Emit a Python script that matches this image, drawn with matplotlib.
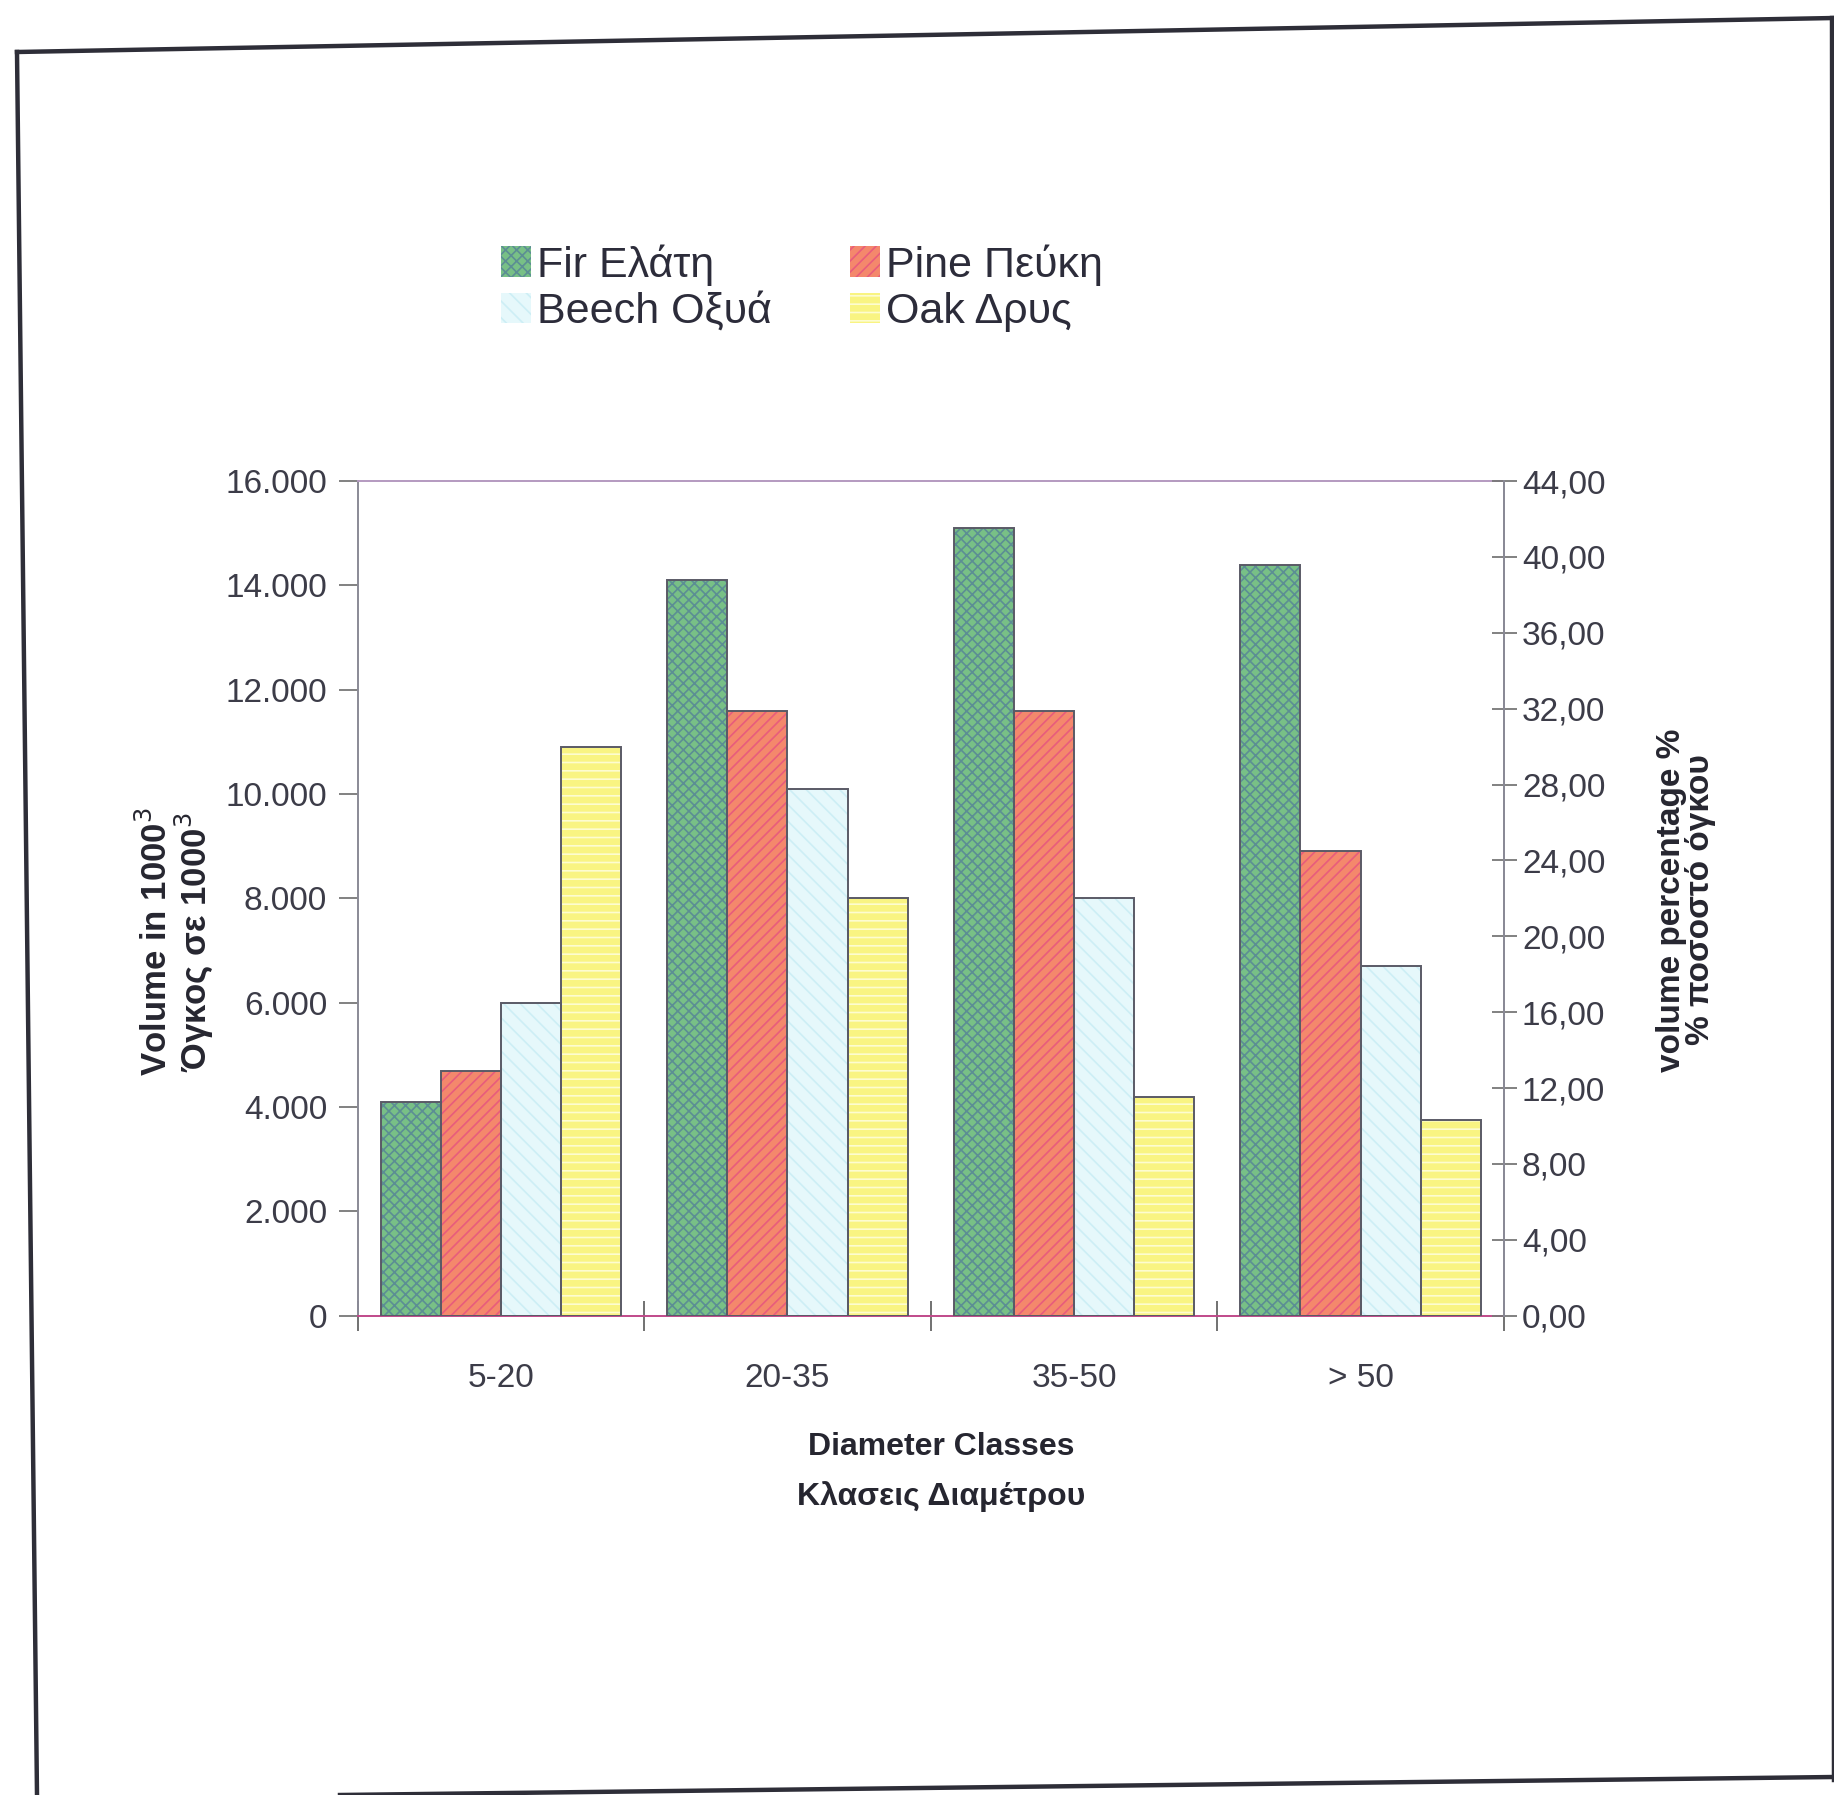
import matplotlib
matplotlib.use("Agg")
import matplotlib.pyplot as plt
from matplotlib.lines import Line2D
from matplotlib.patches import Patch
from matplotlib.ticker import FixedLocator, FuncFormatter
import numpy as np

# volume per diameter class (in 1000 m3)
classes = ["5-20", "20-35", "35-50", "> 50"]
species = ["Fir Ελάτη", "Pine Πεύκη", "Beech Οξυά", "Oak Δρυς"]
fir = [4100, 14100, 15100, 14400]
pine = [4700, 11600, 11600, 8900]
beech = [6000, 10100, 8000, 6700]
oak = [10900, 8000, 4200, 3750]

left_ticks = [0, 2000, 4000, 6000, 8000, 10000, 12000, 14000, 16000]
right_ticks = [0, 4, 8, 12, 16, 20, 24, 28, 32, 36, 40, 44]

plt.rcParams["font.family"] = ["Liberation Sans", "DejaVu Sans"]
plt.rcParams["hatch.linewidth"] = 1.2

W, H = 1834, 1795
fig = plt.figure(figsize=(W / 100, H / 100), dpi=100)
fig.patch.set_facecolor("white")


def fx(px):
    return px / W


def fy(py):
    return 1 - py / H


# page frame around the chart
frame = [((17, 52), (1834, 18)), ((17, 52), (37, 1795)),
         ((1832, 18), (1834, 1780)), ((340, 1795), (1834, 1777))]
for (x0, y0), (x1, y1) in frame:
    fig.add_artist(Line2D([fx(x0), fx(x1)], [fy(y0), fy(y1)],
                          color="#2e2e38", lw=3.2, transform=fig.transFigure))

ax = fig.add_axes([0.195, 0.267, 0.625, 0.465])
ax.set_facecolor("white")

series = [fir, pine, beech, oak]
faces = ["#78c086", "#f4886c", "#e6f8fb", "#f9f482"]
hatch_cols = ["#5c8e94", "#e85c7c", "#cdeef5", "#fdfcd0"]
hatches = ["xxx", "///", "\\\\", "--"]

x = np.arange(len(classes))
w = 0.21
for i, vals in enumerate(series):
    pos = x + (i - 1.5) * w
    ax.bar(pos, vals, w, color=faces[i], hatch=hatches[i],
           edgecolor=hatch_cols[i], linewidth=0, zorder=2)
    ax.bar(pos, vals, w, fill=False, edgecolor="#5a5a66", linewidth=1.4, zorder=3)

ax.set_xlim(-0.5, 3.5)
ax.set_ylim(0, 16000)

ax.xaxis.set_major_locator(FixedLocator([-0.5, 0.5, 1.5, 2.5, 3.5]))
ax.xaxis.set_major_formatter(FuncFormatter(lambda v, p: ""))
ax.xaxis.set_minor_locator(FixedLocator(x))
ax.set_xticklabels(classes, minor=True)
ax.tick_params(axis="x", which="major", direction="inout", length=22, width=1.3, color="#666")
ax.tick_params(axis="x", which="minor", length=0, pad=34, labelsize=24, labelcolor="#3c3c48")

ax.set_yticks(left_ticks)
ax.yaxis.set_major_formatter(FuncFormatter(lambda v, p: f"{int(v):,}".replace(",", ".")))
ax.tick_params(axis="y", direction="out", length=14, width=1.3, color="#777",
               labelsize=24, labelcolor="#3c3c48", pad=8)

for s in ax.spines.values():
    s.set_color("#8a8a96")
    s.set_linewidth(1.4)
ax.spines["bottom"].set_color("#c04a8a")
ax.spines["top"].set_color("#b49ac0")

ax2 = ax.twinx()
ax2.set_ylim(0, 44)
ax2.set_yticks(right_ticks)
ax2.yaxis.set_major_formatter(FuncFormatter(lambda v, p: f"{v:.2f}".replace(".", ",")))
ax2.tick_params(axis="y", direction="inout", length=18, width=1.3, color="#777",
                labelsize=24, labelcolor="#3c3c48", pad=4)
for s in ax2.spines.values():
    s.set_visible(False)
ax2.spines["right"].set_visible(True)
ax2.spines["right"].set_color("#8a8a96")
ax2.spines["right"].set_linewidth(1.4)

# axis titles
fig.text(fx(177), fy(942), "Volume in 1000$^3$\nΌγκος σε 1000$^3$", rotation=90,
         ha="center", va="center", fontsize=25, fontweight="bold", color="#262630",
         linespacing=0.95)
fig.text(fx(1686), fy(900), "volume percentage %\n% ποσοστό όγκου", rotation=90,
         ha="center", va="center", fontsize=24, fontweight="bold", color="#262630",
         linespacing=0.95)
fig.text(fx(941), fy(1447), "Diameter Classes", ha="center", va="center",
         fontsize=23, fontweight="bold", color="#262630")
fig.text(fx(941), fy(1497), "Κλασεις Διαμέτρου", ha="center", va="center",
         fontsize=23, fontweight="bold", color="#262630")

# legend: Fir/Beech in the first column, Pine/Oak in the second
order = [0, 2, 1, 3]
handles = [Patch(facecolor=faces[i], edgecolor=hatch_cols[i], hatch=hatches[i], linewidth=0)
           for i in order]
leg = fig.legend(handles, [species[i] for i in order], ncol=2, loc="center left",
                 bbox_to_anchor=(fx(462), fy(288)), frameon=False, fontsize=31,
                 handlelength=0.7, handleheight=0.7, handletextpad=0.15,
                 labelspacing=0.15, columnspacing=1.8)
for t in leg.get_texts():
    t.set_color("#2c2c3a")

fig.savefig("out.png", dpi=100, facecolor="white")
